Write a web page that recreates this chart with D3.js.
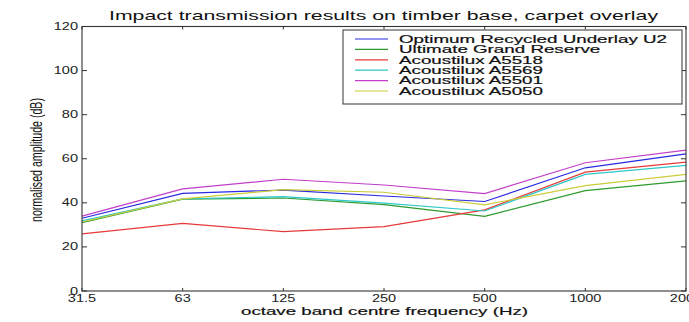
<!DOCTYPE html>
<html><head><meta charset="utf-8">
<script src="https://cdn.jsdelivr.net/npm/d3@7"></script>
<style>
html,body{margin:0;padding:0;background:#fff;overflow:hidden}
text{font-family:"Liberation Sans",Arial,Helvetica,sans-serif}
</style></head>
<body><svg id="c" width="689" height="322"></svg>
<script>
const frequencies = ["31.5","63","125","250","500","1000","2000"];
const seriesNames = ["Optimum Recycled Underlay U2","Ultimate Grand Reserve","Acoustilux A5518","Acoustilux A5569","Acoustilux A5501","Acoustilux A5050"];
const seriesColors = ["#2a2ae0","#2f9a2f","#e63a3a","#2ec8c8","#c23ec8","#cccc3a"];
const optimumU2   = [33.0, 44.3, 45.8, 43.1, 40.6, 55.9, 62.2];
const ultimateGR  = [31.0, 41.7, 42.2, 39.2, 33.9, 45.5, 50.0];
const a5518       = [25.9, 30.7, 26.9, 29.2, 36.8, 53.9, 58.5];
const a5569       = [31.8, 41.8, 42.8, 39.9, 36.3, 52.9, 57.0];
const a5501       = [34.0, 46.3, 50.7, 48.1, 44.2, 58.2, 63.9];
const a5050       = [31.3, 41.8, 46.0, 44.8, 39.1, 47.8, 52.9];
const seriesValues = [optimumU2, ultimateGR, a5518, a5569, a5501, a5050];
const yTicks = [0,20,40,60,80,100,120];

const svg = d3.select("#c");
svg.append("rect").attr("width",689).attr("height",322).attr("fill","#fff");
const L=82, R=686, T=26.5, B=291;
const K = 1.45;
function stretch(sel, k){ sel.each(function(){ const w=this.getComputedTextLength(); d3.select(this).attr("textLength", w*k).attr("lengthAdjust","spacingAndGlyphs"); }); }

const x = d3.scalePoint().domain(frequencies).range([L,R]);
const y = d3.scaleLinear().domain([0,120]).range([B,T]);

// lines
const line = d3.line().x((d,i)=>x(frequencies[i])).y(d=>y(d));
seriesValues.forEach((vals,si)=>{
  svg.append("path").datum(vals).attr("d",line).attr("fill","none")
    .attr("stroke",seriesColors[si]).attr("stroke-width",1.2);
});

// frame
svg.append("rect").attr("x",L).attr("y",T).attr("width",R-L).attr("height",B-T)
  .attr("fill","none").attr("stroke","#333").attr("stroke-width",1.1);

// ticks
const tc="#333";
frequencies.forEach(f=>{
  const xx=x(f);
  svg.append("line").attr("x1",xx).attr("x2",xx).attr("y1",B).attr("y2",B-3).attr("stroke",tc);
  svg.append("line").attr("x1",xx).attr("x2",xx).attr("y1",T).attr("y2",T+3).attr("stroke",tc);
});
yTicks.forEach(v=>{
  const yy=y(v);
  svg.append("line").attr("x1",L).attr("x2",L+5).attr("y1",yy).attr("y2",yy).attr("stroke",tc);
  svg.append("line").attr("x1",R).attr("x2",R-5).attr("y1",yy).attr("y2",yy).attr("stroke",tc);
});

// tick labels
svg.append("g").selectAll("text").data(frequencies).join("text")
  .attr("x",d=>x(d)).attr("y",302).attr("text-anchor","middle")
  .attr("font-size",10).attr("fill","#222").text(d=>d).call(stretch,K);
svg.append("g").selectAll("text").data(yTicks).join("text")
  .attr("x",78).attr("y",d=>y(d)+3.5).attr("text-anchor","end")
  .attr("font-size",10).attr("fill","#222").text(d=>d).call(stretch,K);

// title
svg.append("text").attr("x",109).attr("y",19.5).attr("font-size",13).attr("fill","#111")
  .text("Impact transmission results on timber base, carpet overlay")
  .attr("textLength",549).attr("lengthAdjust","spacingAndGlyphs");
// x label
svg.append("text").attr("x",241).attr("y",315).attr("font-size",11.5).attr("fill","#111")
  .attr("stroke","#111").attr("stroke-width",0.2)
  .text("octave band centre frequency (Hz)")
  .attr("textLength",287).attr("lengthAdjust","spacingAndGlyphs");
// y label
svg.append("text").attr("transform","translate(42,160) rotate(-90) scale(1,1.45)")
  .attr("text-anchor","middle").attr("font-size",11).attr("fill","#111")
  .text("normalised amplitude (dB)")
  .attr("textLength",124).attr("lengthAdjust","spacingAndGlyphs");

// legend
const lg = svg.append("g");
lg.append("rect").attr("x",343).attr("y",30).attr("width",339).attr("height",74)
  .attr("fill","#fff").attr("stroke","#333").attr("stroke-width",1);
let legendK = null;
seriesNames.forEach((n,i)=>{
  const cy = 39 + i*10.4;
  lg.append("line").attr("x1",355).attr("x2",388).attr("y1",cy).attr("y2",cy)
    .attr("stroke",seriesColors[i]).attr("stroke-width",1.2);
  const t = lg.append("text").attr("x",399).attr("y",cy+3.8).attr("font-size",11).attr("fill","#111")
    .attr("stroke","#111").attr("stroke-width",0.2).text(n);
  const w = t.node().getComputedTextLength();
  if(legendK===null) legendK = 268/w;
  t.attr("textLength", w*legendK).attr("lengthAdjust","spacingAndGlyphs");
});
</script></body></html>
